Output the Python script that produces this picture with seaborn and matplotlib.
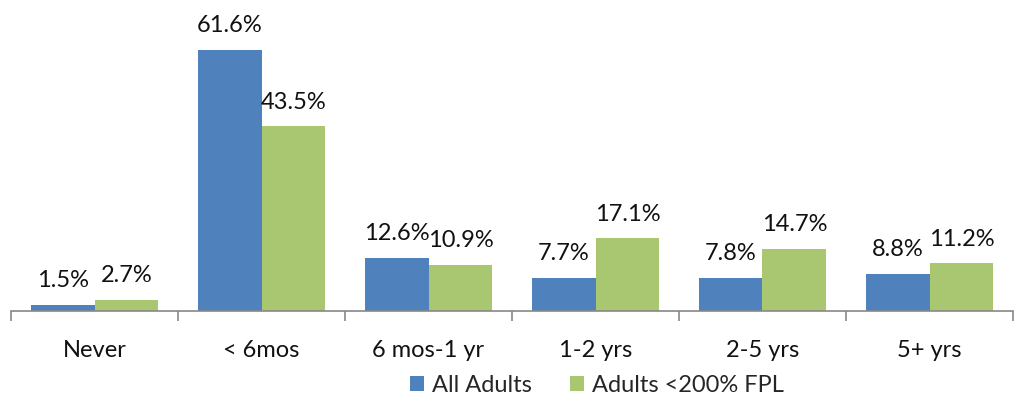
import numpy as np
import pandas as pd
import seaborn as sns
import matplotlib.pyplot as plt

# values
categories = ["Never", "< 6mos", "6 mos-1 yr", "1-2 yrs", "2-5 yrs", "5+ yrs"]
all_adults = [1.5, 61.6, 12.6, 7.7, 7.8, 8.8]
low_income = [2.7, 43.5, 10.9, 17.1, 14.7, 11.2]
series = ["All Adults", "Adults <200% FPL"]

df = pd.DataFrame({
    "category": categories * 2,
    "value": all_adults + low_income,
    "series": [series[0]] * len(categories) + [series[1]] * len(categories),
})

sns.set_style("white")
plt.rcParams["font.family"] = ["Lato", "DejaVu Sans"]

fig = plt.figure(figsize=(10.19, 3.98), dpi=100)
ax = fig.add_axes([11 / 1019, 87 / 398, 1002 / 1019, 297 / 398])

palette = {series[0]: "#4F81BD", series[1]: "#A9C671"}
sns.barplot(data=df, x="category", y="value", hue="series", order=categories,
            hue_order=series, palette=palette, width=0.766, saturation=1,
            edgecolor="none", ax=ax, legend=True)

for c in ax.containers:
    ax.bar_label(c, labels=[f"{v:.1f}%" for v in c.datavalues], padding=10,
                 fontsize=17, color="#111111")

ax.set_xlim(-0.5, len(categories) - 0.5)
ax.set_ylim(0, 70)
ax.set_xlabel("")
ax.set_ylabel("")
ax.set_yticks([])

# category boundary tick marks
ax.set_xticks(np.arange(-0.5, len(categories)), minor=True)
ax.tick_params(axis="x", which="minor", bottom=True, length=7, width=1.2,
               color="#888888", direction="out")
ax.tick_params(axis="x", which="major", bottom=False, length=0, pad=21,
               labelsize=17, labelcolor="#111111")

for side in ["top", "left", "right"]:
    ax.spines[side].set_visible(False)
ax.spines["bottom"].set_color("#888888")
ax.spines["bottom"].set_linewidth(1.2)

handles, labels = ax.get_legend_handles_labels()
ax.legend_.remove()
fig.legend(handles, labels, loc="center", bbox_to_anchor=(597 / 1019, 1 - 385 / 398),
           ncol=2, frameon=False, fontsize=17, handlelength=0.6, handleheight=0.6,
           handletextpad=0.35, columnspacing=1.6)

fig.savefig("out.png", dpi=100)
